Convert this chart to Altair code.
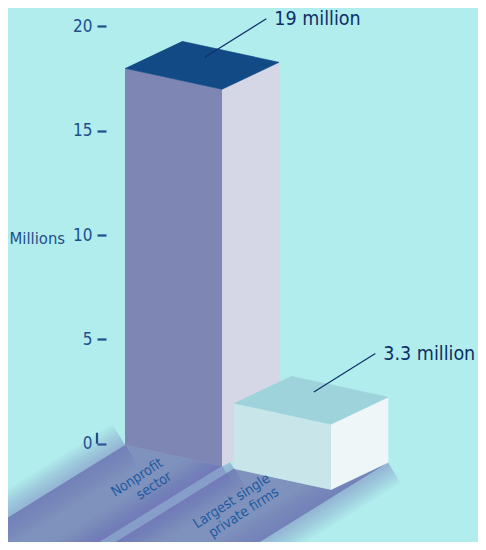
import altair as alt
import pandas as pd

# ---------------- data ----------------
categories = ["Nonprofit sector", "Largest single private firms"]
category_labels = ["Nonprofit\nsector", "Largest single\nprivate firms"]
values_m = [19.0, 3.3]
value_labels = ["19 million", "3.3 million"]
axis_ticks = [0, 5, 10, 15, 20]
axis_title = "Millions"

# ---------------- style ----------------
BG = "#b1eded"
FRONT = ["#7e87b4", "#c8e6e9"]
SIDE = ["#d5d6e6", "#eef6f7"]
TOP = ["#124a86", "#9ed3dc"]
SHADOW = "#7078b0"
NAVY = "#0e2f66"
AXIS_C = "#1f4e8c"
LABEL_C = "#1f5aa0"
FONT = "DejaVu Sans Condensed, Liberation Sans Narrow, sans-serif"

W_PLOT, H_PLOT = 470, 534
PXM = 20.87                      # pixels per million on the y scale
Y_DOM = [-4.71, 20.88]
X_DOM = [0, W_PLOT]
X0 = [117, 226]                  # front-left x of each box
BAR_W = 97
DEPTH_X, DEPTH_Y = 57, 27 / PXM  # receding depth vector
SLANT = 21 / PXM                 # drop of the front edge across a box
BASE0 = -0.06
K = 0.95                         # perspective shrink of heights
SH_DIR = (-1.0, -0.62 / PXM)     # shadow direction per x pixel
SH_LEN = 420
SH_SIDE = [False, True]
SH_STEPS = [48, 44, 40, 36, 32, 28, 24, 20, 16, 12, 8, 4]
AXIS_X = 98
TICK = 9
CALL_A, CALL_B = 0.40, 0.72
CALL_DX, CALL_DY = 61.5, 38.5 / PXM
CALL_GAP = 8
LAB_OFF = [(-64, 10 / PXM), (-66, 18 / PXM)]


def geom(i):
    x0 = X0[i]
    base = BASE0 - (x0 - X0[0]) * SLANT / BAR_W
    h = values_m[i] * K
    flb = (x0, base)
    frb = (x0 + BAR_W, base - SLANT)
    srb = (x0 + BAR_W + DEPTH_X, base - SLANT + DEPTH_Y)
    blb = (x0 + DEPTH_X, base + DEPTH_Y)
    return flb, frb, srb, blb, h


def up(p, h):
    return (p[0], p[1] + h)


def far(p):
    return (p[0] + SH_DIR[0] * SH_LEN, p[1] + SH_DIR[1] * SH_LEN)


face_rows, shadow_rows, edge_rows, call_rows, lab_rows = [], [], [], [], []
for i, cat in enumerate(categories):
    flb, frb, srb, blb, h = geom(i)
    faces = {
        "front": ([flb, frb, up(frb, h), up(flb, h)], FRONT[i]),
        "side": ([frb, srb, up(srb, h), up(frb, h)], SIDE[i]),
        "top": ([up(flb, h), up(frb, h), up(srb, h), up(blb, h)], TOP[i]),
    }
    for fname, (pts, col) in faces.items():
        for k, (x, y) in enumerate(pts):
            face_rows.append({"bar": i, "face": f"{i}-{fname}", "order": k,
                              "x": x, "y": y, "color": col})
    # shadow footprint
    right = srb if SH_SIDE[i] else frb
    spts = [flb, frb] + ([srb] if SH_SIDE[i] else []) + [far(right), far(flb)]
    for k, (x, y) in enumerate(spts):
        shadow_rows.append({"bar": i, "order": k, "x": x, "y": y})
    for e, p in enumerate([flb, right]):
        for k, (x, y) in enumerate([p, far(p)]):
            edge_rows.append({"edge": f"{i}-{e}", "order": k, "x": x, "y": y})
    # callout
    ftl = up(flb, h)
    ax = ftl[0] + CALL_A * BAR_W + CALL_B * DEPTH_X
    ay = ftl[1] - CALL_A * SLANT + CALL_B * DEPTH_Y
    call_rows.append({"x": ax, "y": ay, "x2": ax + CALL_DX, "y2": ay + CALL_DY,
                      "tx": ax + CALL_DX + CALL_GAP, "label": value_labels[i]})
    lab_rows.append({"x": frb[0] + LAB_OFF[i][0], "y": frb[1] + LAB_OFF[i][1],
                     "label": category_labels[i]})

faces_df = pd.DataFrame(face_rows)
shadow_df = pd.DataFrame(shadow_rows)
edge_df = pd.DataFrame(edge_rows)
call_df = pd.DataFrame(call_rows)
lab_df = pd.DataFrame(lab_rows)

xs = alt.Scale(domain=X_DOM, nice=False, zero=False)
ys = alt.Scale(domain=Y_DOM, nice=False, zero=False)
y_axis = alt.Axis(values=axis_ticks, offset=-AXIS_X, domain=False, grid=False,
                  tickSize=TICK, tickWidth=2.2, tickColor=AXIS_C,
                  labelPadding=5, labelFont=FONT, labelFontSize=17,
                  labelColor=AXIS_C, title=axis_title, titleAngle=0,
                  titleX=-AXIS_X + 1, titleY=230, titleAlign="left",
                  titleBaseline="middle", titleFont=FONT, titleFontSize=16.5,
                  titleFontWeight="normal", titleColor=AXIS_C)


def X(f="x"):
    return alt.X(f"{f}:Q", scale=xs, axis=None)


def Y(f="y"):
    return alt.Y(f"{f}:Q", scale=ys, axis=y_axis)


layers = []
# soft shadow: fill plus graded translucent strokes along the long edges
layers.append(
    alt.Chart(shadow_df).mark_line(fill=SHADOW, fillOpacity=0.78, strokeWidth=0, clip=True)
    .encode(x=X(), y=Y(), order="order:Q", detail="bar:N"))
for sw in SH_STEPS:
    layers.append(
        alt.Chart(edge_df).mark_line(stroke=SHADOW, strokeWidth=sw, strokeOpacity=0.045,
                                     strokeCap="butt", clip=True)
        .encode(x=X(), y=Y(), order="order:Q", detail="edge:N"))

for i in range(len(categories)):
    layers.append(
        alt.Chart(faces_df[faces_df["bar"] == i]).mark_line(strokeWidth=0.6)
        .encode(x=X(), y=Y(), order="order:Q", detail="face:N",
                fill=alt.Fill("color:N", scale=None),
                stroke=alt.Stroke("color:N", scale=None)))

# zero-tick stub (the "L")
layers.append(
    alt.Chart(pd.DataFrame({"x": [AXIS_X - TICK], "y": [0], "y2": [11 / PXM]}))
    .mark_rule(color=AXIS_C, strokeWidth=2.2)
    .encode(x=X(), y=Y(), y2="y2:Q"))

layers.append(
    alt.Chart(call_df).mark_rule(color=NAVY, strokeWidth=1.2)
    .encode(x=X(), y=Y(), x2="x2:Q", y2="y2:Q"))
layers.append(
    alt.Chart(call_df).mark_text(align="left", baseline="middle", font=FONT,
                                 fontSize=19.5, color=NAVY)
    .encode(x=X("tx"), y=Y("y2"), text="label:N"))
layers.append(
    alt.Chart(lab_df).mark_text(align="right", baseline="top", angle=327, font=FONT,
                                fontSize=14, lineHeight=16, lineBreak="\n", color=LABEL_C)
    .encode(x=X(), y=Y(), text="label:N"))

chart = (alt.layer(*layers)
         .properties(width=W_PLOT, height=H_PLOT, padding=0,
                     autosize=alt.AutoSizeParams(type="none"))
         .configure(background=BG)
         .configure_view(stroke=None))

chart.save("out.html", embed_options={"renderer": "svg", "actions": False})
